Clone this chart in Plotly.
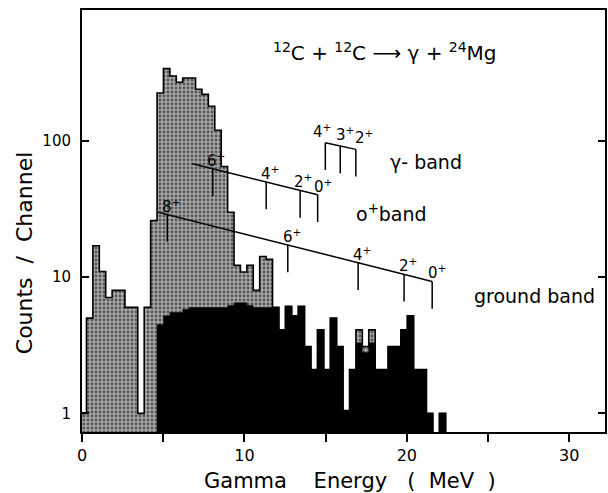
import numpy as np
import plotly.graph_objects as go

# ---------------- data ----------------
first_edge = -0.12      # MeV, lower edge of first channel
bin_width = 0.395       # MeV per channel

# total spectrum (outlined, stippled)
outer_counts = [1.0, 5.0, 17, 11, 7.1, 8.0, 8.0, 6.0, 6.0, 1.0, 6.0,
                26, 225, 340, 300, 270, 290, 290, 240, 220, 180,
                120, 65, 30, 12.2, 10.9, 12.2, 8.0, 14.2, 13.5, 6.0,
                4.1, 6.1, 5.2, 6.1, 3.1, 2.1, 4.1, 2.1, 5.0, 3.1,
                1.05, 2.1, 4.1, 3.1, 4.1, 2.1, 2.1, 3.1, 3.1, 4.1,
                5.2, 2.1, 2.1, 1.0, None, 1.0, None]
# coincidence spectrum (solid black)
inner_counts = [None, None, None, None, None, None, None, None, None, None, None,
                None, 4.5, 5.2, 5.5, 5.5, 5.8, 6.0, 6.0, 6.0, 6.0,
                6.0, 6.0, 6.2, 6.5, 6.5, 6.2, 6.0, 6.0, 6.0, 6.0,
                4.1, 6.1, 5.2, 6.1, 3.1, 2.1, 4.1, 2.1, 5.0, 3.1,
                1.05, 2.1, 3.3, 2.8, 3.3, 2.1, 2.1, 3.1, 3.1, 4.1,
                5.2, 2.1, 2.1, 1.0, None, 1.0, None]

# rotational bands: level energies (MeV), spins, line end points (MeV, counts)
ground_E = [5.25, 12.67, 17.0, 19.83, 21.56]
ground_J = ["8", "6", "4", "2", "0"]
ground_line = ([4.69, 21.56], [30.0, 9.3])

zero_E = [8.05, 11.34, 13.43, 14.51]
zero_J = ["6", "4", "2", "0"]
zero_line = ([6.8, 14.51], [68.0, 40.3])

gamma_E = [14.98, 15.9, 16.86]
gamma_J = ["4", "3", "2"]
gamma_line = ([14.98, 16.86], [97.0, 86.8])

x_ticks = [0, 10, 20, 30]
x_ticktext = ["0", "10", "20", "30"]
x_minor_ticks = [5, 15, 25]
y_ticks = [1, 10, 100]
y_ticktext = ["1", "10", "100"]

# ---------------- geometry helpers ----------------
W, H = 608, 493
L, R, T, B = 82, 1, 10, 61
PW, PH = W - L - R, H - T - B


def px(x):
    return (x - L) / PW


def py(y):
    return (H - B - y) / PH


edges = first_edge + bin_width * np.arange(len(outer_counts) + 1)
BASE = 0.3


def step_polygon(vals):
    xs, ys = [edges[0]], [BASE]
    for i, v in enumerate(vals):
        y = v if v else BASE
        xs += [edges[i], edges[i + 1]]
        ys += [y, y]
    xs += [edges[-1], edges[0]]
    ys += [BASE, BASE]
    return xs, ys


FONT = "DejaVu Sans"
fig = go.Figure()

ox, oy = step_polygon(outer_counts)
fig.add_trace(go.Scatter(
    x=ox, y=oy, mode="lines", fill="toself",
    fillcolor="#a0a0a0",
    fillpattern=dict(shape=".", fgcolor="black", bgcolor="#a8a8a8", size=4, solidity=0.4),
    line=dict(color="black", width=1.6), hoverinfo="skip", showlegend=False))

ix, iy = step_polygon(inner_counts)
fig.add_trace(go.Scatter(
    x=ix, y=iy, mode="lines", fill="toself", fillcolor="black",
    line=dict(color="black", width=0.5), hoverinfo="skip", showlegend=False))


def band(levels, spins, line, xshifts, yshift):
    (x0, x1), (y0, y1) = line
    l0, l1 = np.log10(y0), np.log10(y1)
    xs = [x0, x1, None]
    ys = [y0, y1, None]
    tops = []
    for e in levels:
        top = 10 ** (l0 + (l1 - l0) * (e - x0) / (x1 - x0))
        tops.append(top)
        xs += [e, e, None]
        ys += [top, top * 10 ** -0.2, None]
    fig.add_trace(go.Scatter(x=xs, y=ys, mode="lines",
                             line=dict(color="black", width=1.5),
                             hoverinfo="skip", showlegend=False))
    for e, j, top, xs_ in zip(levels, spins, tops, xshifts):
        fig.add_annotation(x=e, y=np.log10(top), xref="x", yref="y",
                           text=j + "<sup>+</sup>", showarrow=False,
                           xanchor="center", yanchor="bottom", xshift=xs_, yshift=yshift,
                           font=dict(family=FONT, size=15, color="black"))


band(ground_E, ground_J, ground_line, [4, 4, 4, 4, 5], -3)
band(zero_E, zero_J, zero_line, [3, 4, 3, 5], -3)
band(gamma_E, gamma_J, gamma_line, [-3, 5, 8], 0)

NB = "\u00a0"
texts = [
    ("<sup>12</sup>C + <sup>12</sup>C \u27f6 \u03b3 + <sup>24</sup>Mg", 386, 52, 20),
    ("\u03b3- band", 427, 162, 19),
    ("o<sup>+</sup>band", 393, 213, 19),
    ("ground band", 536, 296, 19),
    ("Gamma" + NB * 4 + "Energy" + NB * 3 + "(" + NB * 2 + "MeV" + NB * 2 + ")", 351, 481, 21),
]
for t, x, y, s in texts:
    fig.add_annotation(x=px(x), y=py(y), xref="paper", yref="paper", text=t,
                       showarrow=False, xanchor="center", yanchor="middle",
                       font=dict(family=FONT, size=s, color="black"))

fig.add_annotation(x=px(24), y=py(253), xref="paper", yref="paper",
                   text="Counts" + NB * 2 + "/" + NB * 2 + "Channel", textangle=-90,
                   showarrow=False, xanchor="center", yanchor="middle",
                   font=dict(family=FONT, size=22, color="black"))

fig.update_xaxes(range=[0, 32.2], showgrid=False, zeroline=False,
                 showline=True, linecolor="black", linewidth=2, mirror=True,
                 ticks="outside", ticklen=8, tickwidth=1.5, tickcolor="black",
                 tickvals=x_ticks, ticktext=x_ticktext,
                 minor=dict(tickvals=x_minor_ticks, ticks="outside", ticklen=8,
                            tickwidth=1.5, tickcolor="black"),
                 tickfont=dict(family=FONT, size=16, color="black"))
fig.update_yaxes(type="log", range=[-0.137, 2.962], showgrid=False, zeroline=False,
                 showline=True, linecolor="black", linewidth=2, mirror="ticks",
                 ticks="inside", ticklen=7, tickwidth=1.5, tickcolor="black",
                 tickvals=y_ticks, ticktext=y_ticktext, ticklabelstandoff=6,
                 tickfont=dict(family=FONT, size=15, color="black"))
fig.update_layout(width=W, height=H, margin=dict(l=L, r=R, t=T, b=B),
                  plot_bgcolor="white", paper_bgcolor="white", showlegend=False)
fig.write_html("out.html", config={"displayModeBar": False},
               post_script="document.body.style.margin='0px';"
                           "document.body.style.overflow='hidden';")
